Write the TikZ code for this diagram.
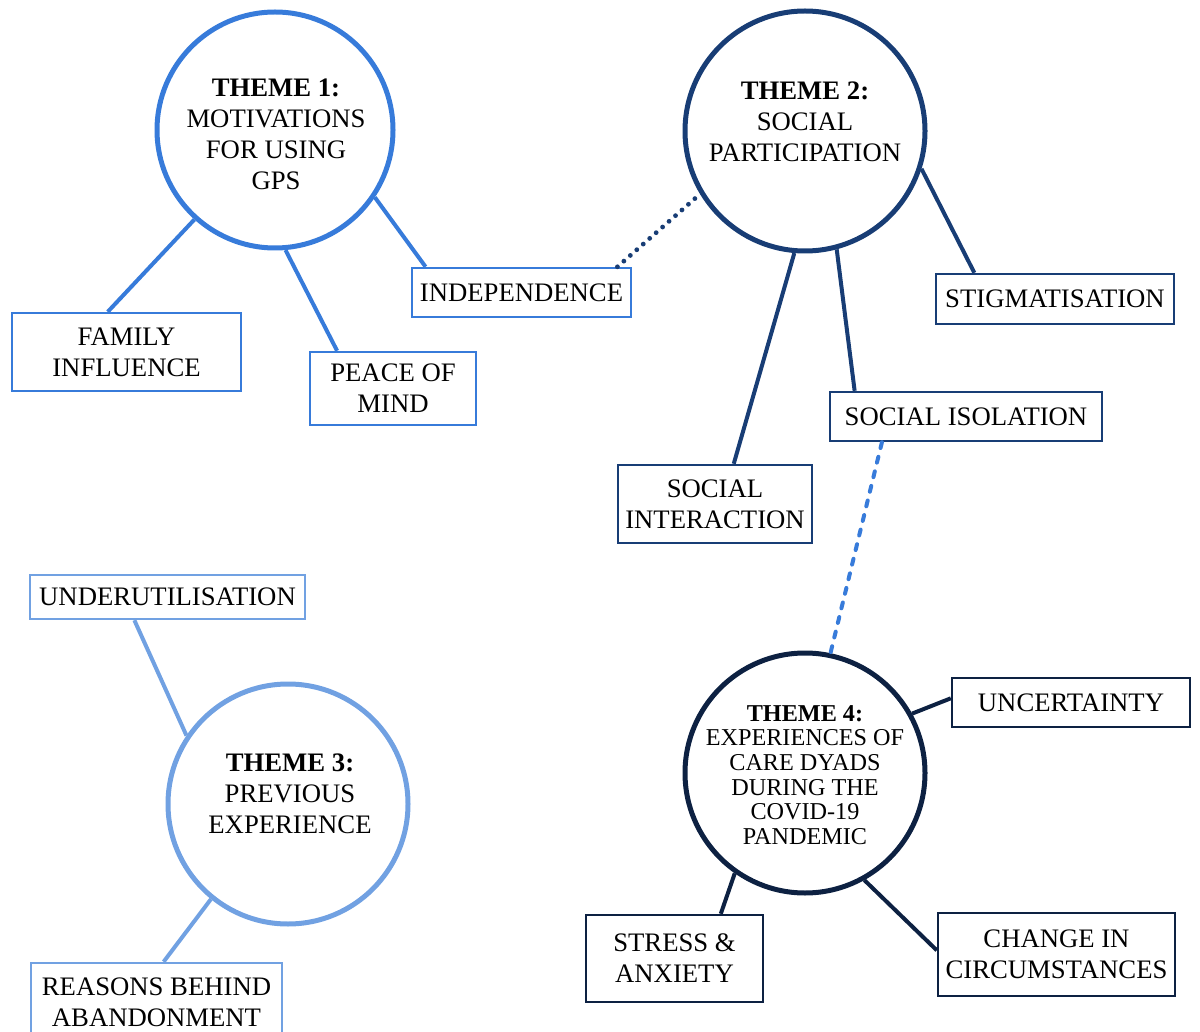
\documentclass[tikz,border=0pt]{standalone}
\usepackage{fontspec}
\setmainfont{Liberation Serif}
\definecolor{blueA}{RGB}{55,123,218}
\definecolor{blueB}{RGB}{24,61,117}
\definecolor{blueC}{RGB}{113,161,226}
\definecolor{blueD}{RGB}{13,33,66}
\begin{document}
\begin{tikzpicture}[x=0.5pt,y=-0.5pt,
  theme/.style={circle, draw=#1, line width=2.5pt, minimum size=#1size, inner sep=0pt},
  ring/.style={circle, draw=#1, line width=2.5pt, inner sep=0pt},
  themetext/.style={align=center, inner sep=0pt, font=\fontsize{13.35pt}{15.5pt}\selectfont},
  topic/.style={draw=#1, line width=1.2pt, align=center, inner sep=1pt,
    font=\fontsize{13.35pt}{15.5pt}\selectfont},
  link/.style={draw=#1, line width=2pt},
]
\useasboundingbox (0,0) rectangle (1200,1032);

% theme circles
\node[ring=blueA, minimum size=118pt] (t1) at (275,130) {};
\node[ring=blueB, minimum size=120pt] (t2) at (805,131) {};
\node[ring=blueC, minimum size=120pt] (t3) at (288,804) {};
\node[ring=blueD, minimum size=120pt] (t4) at (805,773) {};

% theme titles
\node[themetext] (t1txt) at (276,134) {\textbf{THEME 1:}\\MOTIVATIONS\\FOR USING\\GPS};
\node[themetext] (t2txt) at (805,122) {\textbf{THEME 2:}\\SOCIAL\\PARTICIPATION};
\node[themetext] (t3txt) at (290,794) {\textbf{THEME 3:}\\PREVIOUS\\EXPERIENCE};
\node[themetext, font=\fontsize{12.1pt}{12.3pt}\selectfont] (t4txt) at (805,775)
  {\textbf{THEME 4:}\\EXPERIENCES OF\\CARE DYADS\\DURING THE\\COVID-19\\PANDEMIC};

% sub-themes of theme 1
\node[topic=blueA, minimum width=114.5pt, minimum height=39pt] (fam) at (126.5,352) {FAMILY\\INFLUENCE};
\node[topic=blueA, minimum width=83pt, minimum height=36.5pt] (peace) at (393,388.5) {PEACE OF\\MIND};
\node[topic=blueA, minimum width=109.5pt, minimum height=24.5pt] (indep) at (521.5,292.5) {INDEPENDENCE};

% sub-themes of theme 2
\node[topic=blueB, minimum width=119pt, minimum height=25pt] (stig) at (1055,299) {STIGMATISATION};
\node[topic=blueB, minimum width=136pt, minimum height=24.5pt] (isol) at (966,416.5) {SOCIAL ISOLATION};
\node[topic=blueB, minimum width=97pt, minimum height=39pt] (inter) at (715,504) {SOCIAL\\INTERACTION};

% sub-themes of theme 3
\node[topic=blueC, minimum width=137.5pt, minimum height=22pt] (under) at (167.5,597) {UNDERUTILISATION};
\node[topic=blueC, minimum width=125.5pt, minimum height=39pt] (aband) at (156.5,1002) {REASONS BEHIND\\ABANDONMENT};

% sub-themes of theme 4
\node[topic=blueD, minimum width=119pt, minimum height=24.5pt] (uncert) at (1071,702.5) {UNCERTAINTY};
\node[topic=blueD, minimum width=88.5pt, minimum height=43.5pt] (stress) at (674.5,958.5) {STRESS \&\\ANXIETY};
\node[topic=blueD, minimum width=118.5pt, minimum height=41.5pt] (change) at (1056.5,954.5) {CHANGE IN\\CIRCUMSTANCES};

% connectors
\draw[link=blueA] (t1.228.3) -- (fam.115.4);
\draw[link=blueA] (t1.275.6) -- (peace.146.9);
\draw[link=blueA] (t1.326.6) -- (indep.165.3);

\draw[link=blueB] (t2.342.3) -- (stig.162);
\draw[link=blueB] (t2.265.4) -- (inter.65.2);
\draw[link=blueB] (t2.285.3) -- (isol.167);

\draw[link=blueC] (t3.146.8) -- (under.215.8);
\draw[link=blueC] (t3.231) -- (aband.80.5);

\draw[link=blueD] (t4.29.7) -- (uncert.178.3);
\draw[link=blueD] (t4.235.2) -- (stress.44.3);
\draw[link=blueD] (t4.299.3) -- (change.178.8);

% cross-theme links
\draw[blueB, line width=2.4pt, line cap=round, dash pattern=on 0pt off 4.3pt] (indep.15.8) -- (t2.211);
\draw[blueA, line width=2pt, line cap=round, dash pattern=on 3pt off 4.5pt] (isol.197.4) -- (t4.78.3);
\end{tikzpicture}
\end{document}
